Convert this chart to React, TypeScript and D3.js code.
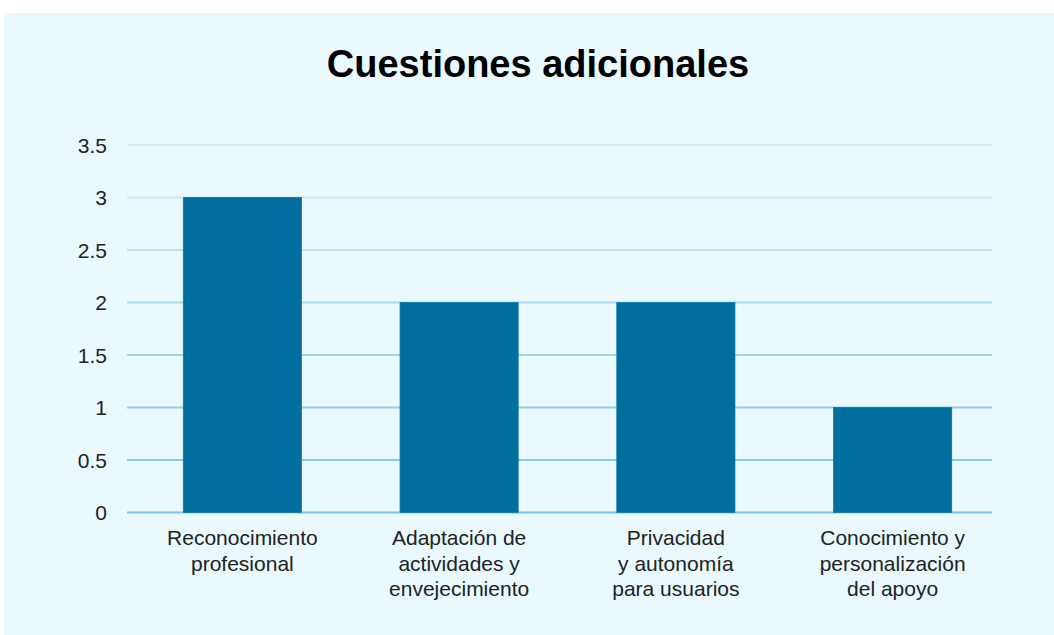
import React from "react";
import * as d3 from "d3";

const title = "Cuestiones adicionales";
const categories = [
  ["Reconocimiento", "profesional"],
  ["Adaptación de", "actividades y", "envejecimiento"],
  ["Privacidad", "y autonomía", "para usuarios"],
  ["Conocimiento y", "personalización", "del apoyo"],
];
const values = [3, 2, 2, 1];
const yTicks = [0, 0.5, 1, 1.5, 2, 2.5, 3, 3.5];

const W = 1054;
const H = 635;

export default function App() {
  const y = d3.scaleLinear().domain([0, 3.5]).range([512.5, 145]);
  const x = d3
    .scaleBand<number>()
    .domain(values.map((_, i) => i))
    .range([134, 1001])
    .paddingInner(0.455)
    .paddingOuter(0.2275);
  const gridColor = d3.scaleLinear<string>().domain([0, 3.5]).range(["#7fc2e2", "#d5edf7"]);
  const font = "'Liberation Sans', Arial, Helvetica, sans-serif";
  return (
    <svg width={W} height={H} style={{ position: "absolute", left: 0, top: 0 }} fontFamily={font}>
      <rect x={0} y={0} width={W} height={H} fill="#ffffff" />
      <rect x={4} y={13} width={W - 4} height={H - 13} fill="#e9f9fe" />
      <text x={538} y={77} textAnchor="middle" fontSize={38} fontWeight="bold" fill="#000">
        {title}
      </text>
      {yTicks.map((t) => (
        <g key={t}>
          <line x1={127} x2={992} y1={y(t)} y2={y(t)} stroke={gridColor(t)} strokeWidth={2} />
          <text x={107} y={y(t)} dy="0.36em" textAnchor="end" fontSize={21} fill="#222">
            {d3.format("")(t)}
          </text>
        </g>
      ))}
      {values.map((v, i) => (
        <rect
          key={i}
          x={x(i)}
          y={y(v)}
          width={x.bandwidth()}
          height={y(0) - y(v)}
          fill="#006f9d"
          stroke="#0a7aa6"
          strokeWidth={0.8}
        />
      ))}
      {categories.map((lines, i) => (
        <text key={i} textAnchor="middle" fontSize={21} fill="#222">
          {lines.map((l, j) => (
            <tspan key={j} x={(x(i) as number) + x.bandwidth() / 2} y={545 + j * 25.5}>
              {l}
            </tspan>
          ))}
        </text>
      ))}
    </svg>
  );
}
